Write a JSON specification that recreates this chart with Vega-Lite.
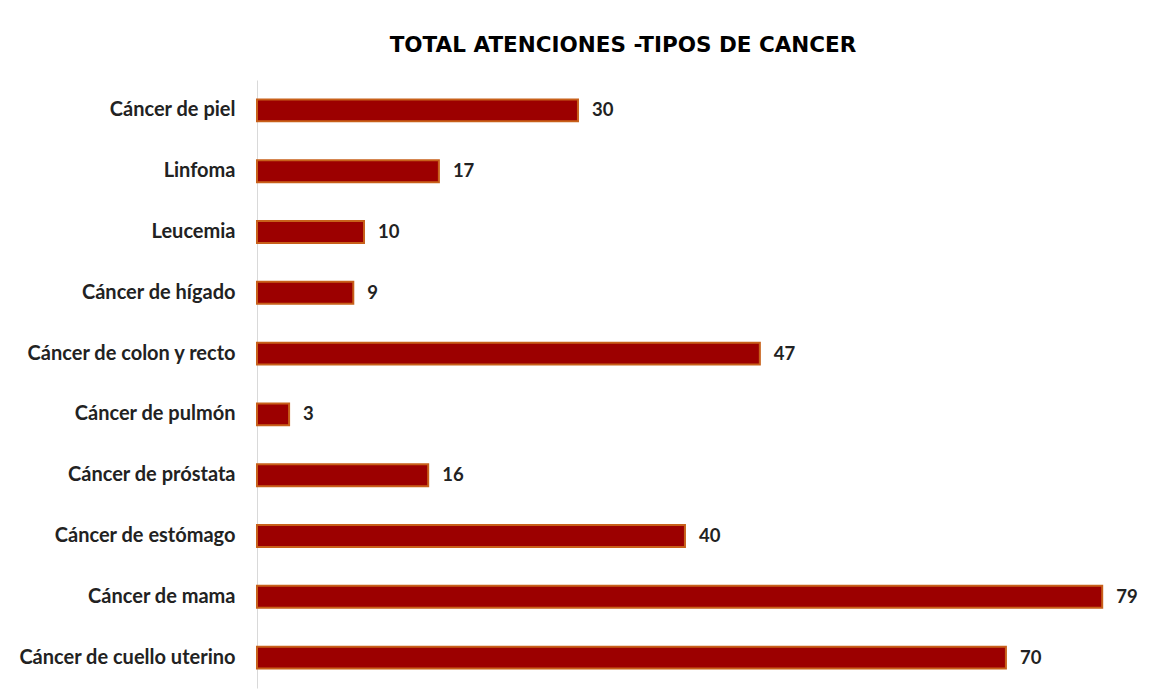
{
  "$schema": "https://vega.github.io/schema/vega-lite/v6.json",
  "autosize": "none",
  "padding": {"left": 257, "top": 80, "right": 17, "bottom": 5},
  "width": 888,
  "height": 608,
  "background": "white",
  "title": {
    "text": "TOTAL ATENCIONES -TIPOS DE CANCER",
    "font": "DejaVu Sans",
    "fontSize": 21.5,
    "fontWeight": "bold",
    "color": "#000000",
    "anchor": "middle",
    "dx": -78,
    "offset": 24
  },
  "data": {
    "values": [
      {"tipo": "Cáncer de piel", "total": 30},
      {"tipo": "Linfoma", "total": 17},
      {"tipo": "Leucemia", "total": 10},
      {"tipo": "Cáncer de hígado", "total": 9},
      {"tipo": "Cáncer de colon y recto", "total": 47},
      {"tipo": "Cáncer de pulmón", "total": 3},
      {"tipo": "Cáncer de próstata", "total": 16},
      {"tipo": "Cáncer de estómago", "total": 40},
      {"tipo": "Cáncer de mama", "total": 79},
      {"tipo": "Cáncer de cuello uterino", "total": 70}
    ]
  },
  "encoding": {
    "y": {
      "field": "tipo",
      "type": "nominal",
      "sort": null,
      "scale": {"paddingInner": 0.64, "paddingOuter": 0.32},
      "axis": {
        "title": null,
        "ticks": false,
        "domainColor": "#d9d9d9",
        "domainWidth": 1,
        "labelFont": "Lato",
        "labelFontSize": 20,
        "labelFontWeight": "bold",
        "labelColor": "#222222",
        "labelPadding": 22,
        "labelLimit": 400
      }
    },
    "x": {
      "field": "total",
      "type": "quantitative",
      "scale": {"domain": [0, 83]},
      "axis": null
    }
  },
  "layer": [
    {
      "mark": {"type": "bar", "fill": "#9c0000", "stroke": "#c8601a", "strokeWidth": 2}
    },
    {
      "mark": {
        "type": "text",
        "align": "left",
        "baseline": "middle",
        "dx": 14,
        "font": "Lato",
        "fontSize": 18.5,
        "fontWeight": "bold",
        "color": "#222222"
      },
      "encoding": {"text": {"field": "total", "type": "quantitative"}}
    }
  ],
  "config": {"view": {"stroke": null}}
}
